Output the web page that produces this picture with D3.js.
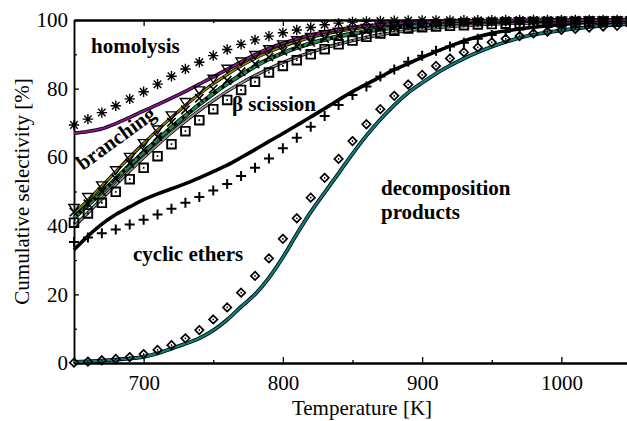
<!DOCTYPE html>
<html>
<head>
<meta charset="utf-8">
<script src="https://cdn.jsdelivr.net/npm/d3@7"></script>
<style>
  body { margin: 0; background: #fff; }
  text { font-family: "Liberation Serif", "Times New Roman", serif; }
</style>
</head>
<body>
<div id="my_dataviz"></div>
<script>
// temperatures of the data points [K]
var temps = [650, 660, 670, 680, 690, 700, 710, 720, 730, 740, 750, 760, 770, 780, 790, 800,
             810, 820, 830, 840, 850, 860, 870, 880, 890, 900, 910, 920, 930, 940, 950, 960,
             970, 980, 990, 1000, 1010, 1020, 1030, 1040, 1050];

// measured points (markers)
var homolysisPts = [69.4, 71.1, 73.0, 75.0, 77.0, 79.1, 81.3, 83.6, 85.7, 87.7, 89.6, 91.4, 92.9, 94.2, 95.3, 96.3,
                    97.1, 97.8, 98.6, 99.1, 99.4, 99.6, 99.7, 99.8, 99.85, 99.9, 99.9, 99.9, 99.95, 99.95, 99.95, 100,
                    100, 100, 100, 100, 100, 100, 100, 100, 100];
var branchingPts = [45.3, 48.5, 51.9, 56.3, 60.2, 64.2, 68.2, 72.3, 76.2, 79.6, 83.0, 85.9, 88.0, 89.9, 91.6, 93.0,
                    94.2, 95.2, 96.0, 96.7, 97.3, 97.8, 98.2, 98.5, 98.8, 99.0, 99.2, 99.3, 99.45, 99.55, 99.6, 99.7,
                    99.75, 99.8, 99.85, 99.9, 99.9, 99.95, 99.95, 100, 100];
var otherPts     = [44.0, 46.4, 49.9, 53.8, 58.2, 62.1, 66.0, 70.2, 73.8, 77.2, 79.9, 82.4, 84.9, 87.2, 89.2, 90.9,
                    92.3, 93.5, 94.6, 95.5, 96.3, 96.9, 97.5, 97.9, 98.3, 98.6, 98.9, 99.1, 99.25, 99.4, 99.5, 99.6,
                    99.7, 99.75, 99.8, 99.85, 99.9, 99.9, 99.95, 99.95, 100];
var betaPts      = [40.9, 43.6, 46.7, 49.9, 53.6, 56.9, 60.3, 63.8, 67.6, 70.8, 74.0, 76.7, 79.6, 82.0, 84.7, 86.6,
                    88.3, 90.0, 91.5, 92.9, 94.0, 95.1, 96.1, 96.9, 97.5, 97.9, 98.1, 98.3, 98.5, 98.7, 98.8, 98.9,
                    99.0, 99.1, 99.2, 99.3, 99.35, 99.4, 99.45, 99.5, 99.5];
var cyclicPts    = [35.3, 36.6, 37.8, 38.9, 40.4, 41.8, 43.3, 45.0, 46.7, 48.4, 50.3, 52.2, 54.5, 56.9, 59.6, 62.6,
                    65.7, 68.9, 72.0, 75.2, 78.1, 80.6, 83.5, 85.6, 87.8, 89.6, 91.0, 92.3, 93.4, 94.5, 95.6, 96.5,
                    97.2, 97.9, 98.4, 98.7, 99.0, 99.2, 99.4, 99.5, 99.6];
var decompPts    = [0.1, 0.4, 0.8, 1.2, 1.7, 2.6, 3.8, 5.2, 7.2, 9.6, 12.7, 16.2, 20.5, 25.4, 30.5, 36.2,
                    42.2, 48.2, 54.0, 59.5, 64.7, 69.6, 74.0, 77.9, 81.2, 84.0, 86.6, 88.8, 90.6, 92.0, 93.5, 94.5,
                    95.3, 96.1, 96.6, 97.1, 97.4, 97.8, 98.1, 98.3, 98.5];

// model curves (lines)
var homolysisFit = [67.0, 67.5, 68.3, 69.8, 71.6, 73.5, 75.3, 77.2, 79.2, 81.3, 83.4, 85.6, 87.8, 89.9, 91.7, 93.2,
                    94.5, 95.6, 96.5, 97.2, 97.8, 98.3, 98.7, 99.0, 99.2, 99.4, 99.5, 99.6, 99.7, 99.75, 99.8, 99.85,
                    99.9, 99.9, 99.95, 99.95, 100, 100, 100, 100, 100];
var branchingFit = [43.5, 47.5, 51.6, 55.8, 60.0, 64.0, 67.9, 71.6, 75.1, 78.4, 81.4, 84.1, 86.6, 88.8, 90.7, 92.3,
                    93.7, 94.9, 95.9, 96.7, 97.4, 97.9, 98.3, 98.7, 99.0, 99.2, 99.35, 99.5, 99.6, 99.7, 99.75, 99.8,
                    99.85, 99.9, 99.9, 99.95, 99.95, 100, 100, 100, 100];
var otherFit     = [42.3, 46.0, 49.8, 53.7, 57.6, 61.4, 65.1, 68.7, 72.1, 75.4, 78.5, 81.4, 84.0, 86.5, 88.6, 90.4,
                    91.9, 93.2, 94.3, 95.2, 96.0, 96.7, 97.3, 97.8, 98.2, 98.5, 98.8, 99.0, 99.2, 99.35, 99.5, 99.6,
                    99.7, 99.75, 99.8, 99.85, 99.9, 99.9, 99.95, 99.95, 100];
var betaFit      = [39.8, 43.8, 47.9, 52.0, 56.0, 59.9, 63.6, 67.2, 70.5, 73.6, 76.5, 79.2, 81.6, 83.8, 85.8, 87.6,
                    89.2, 90.6, 91.9, 93.0, 94.0, 94.9, 95.7, 96.4, 96.9, 97.4, 97.8, 98.1, 98.4, 98.6, 98.8, 98.95,
                    99.05, 99.15, 99.25, 99.3, 99.35, 99.4, 99.45, 99.5, 99.5];
var cyclicFit    = [33.0, 37.0, 40.5, 43.3, 45.5, 47.6, 49.3, 50.8, 52.3, 54.0, 55.8, 57.7, 59.9, 62.2, 64.6, 66.9,
                    69.3, 71.7, 74.2, 76.7, 79.1, 81.3, 83.4, 85.5, 87.3, 89.1, 90.8, 92.4, 93.9, 95.1, 96.1, 96.8,
                    97.4, 97.9, 98.3, 98.7, 99.0, 99.3, 99.5, 99.6, 99.7];
var decompFit    = [0.3, 0.5, 0.7, 1.0, 1.3, 1.8, 2.8, 4.2, 5.6, 7.2, 9.5, 12.6, 16.4, 20.0, 24.8, 30.8,
                    37.6, 44.0, 49.7, 55.3, 61.0, 66.3, 71.0, 75.2, 78.8, 81.7, 84.4, 86.7, 88.8, 90.6, 92.2, 93.6,
                    94.8, 95.7, 96.4, 97.0, 97.5, 98.0, 98.4, 98.6, 98.8];

// tick values
var xMajor = [700, 800, 900, 1000];
var xMinor = [650, 750, 850, 950, 1050];
var yMajor = [0, 20, 40, 60, 80, 100];
var yMinor = [10, 30, 50, 70, 90];

// set the dimensions and margins of the graph
var margin = {top: 20, right: 0, bottom: 58, left: 74},
    width = 557,
    height = 343;

// append the svg object to the body of the page
var svg = d3.select("#my_dataviz")
  .append("svg")
    .attr("width", 627)
    .attr("height", 421)
  .append("g")
    .attr("transform", "translate(" + margin.left + "," + margin.top + ")");

var x = d3.scaleLinear().domain([650, 1050]).range([0, width]);
var y = d3.scaleLinear().domain([0, 100]).range([height, 0]);

// custom marker shapes (size = half width in px)
function seg(c, x0, y0, x1, y1) { c.moveTo(x0, y0); c.lineTo(x1, y1); }
var shapes = {
  asterisk: { draw: function (c, r) {
    var d = r * 0.72;
    seg(c, -r, 0, r, 0); seg(c, 0, -r, 0, r);
    seg(c, -d, -d, d, d); seg(c, -d, d, d, -d);
  }},
  triDown: { draw: function (c, r) {
    c.moveTo(-r, -r * 0.6); c.lineTo(r, -r * 0.6); c.lineTo(0, r * 0.9); c.closePath();
  }},
  times: { draw: function (c, r) {
    seg(c, -r, -r, r, r); seg(c, -r, r, r, -r);
  }},
  squareDot: { draw: function (c, r) {
    c.rect(-r, -r, 2 * r, 2 * r);
    seg(c, -0.8, 0, 0.8, 0);
  }},
  plus: { draw: function (c, r) {
    seg(c, -r, 0, r, 0); seg(c, 0, -r, 0, r);
  }},
  diamondDot: { draw: function (c, r) {
    c.moveTo(0, -r); c.lineTo(r, 0); c.lineTo(0, r); c.lineTo(-r, 0); c.closePath();
    seg(c, -0.7, 0, 0.7, 0);
  }}
};

// Add the axes (ticks pointing inwards)
function styleAxis(g) {
  g.attr("font-family", null).attr("font-size", null);
  g.selectAll(".domain").attr("stroke", "#000").attr("stroke-width", 2);
  g.selectAll(".tick line").attr("stroke", "#000").attr("stroke-width", 1.3);
  g.selectAll(".tick text").attr("fill", "#000").style("font-size", "21px");
}

svg.append("g")
  .attr("transform", "translate(0," + height + ")")
  .call(d3.axisBottom(x).tickValues(xMajor).tickSize(-6).tickSizeOuter(0).tickPadding(12).tickFormat(d3.format("d")))
  .call(styleAxis);
svg.append("g")
  .attr("transform", "translate(0," + height + ")")
  .call(d3.axisBottom(x).tickValues(xMinor).tickSize(-3).tickSizeOuter(0).tickFormat(""))
  .call(styleAxis);
svg.append("g")
  .call(d3.axisTop(x).tickValues(xMajor).tickSize(-6).tickSizeOuter(0).tickFormat(""))
  .call(styleAxis);
svg.append("g")
  .call(d3.axisTop(x).tickValues(xMinor).tickSize(-3).tickSizeOuter(0).tickFormat(""))
  .call(styleAxis);

svg.append("g")
  .call(d3.axisLeft(y).tickValues(yMajor).tickSize(-5).tickSizeOuter(0).tickPadding(6))
  .call(styleAxis)
  .call(function (g) { g.select(".domain").attr("stroke-width", 1.5); });
svg.append("g")
  .call(d3.axisLeft(y).tickValues(yMinor).tickSize(-3).tickSizeOuter(0).tickFormat(""))
  .call(styleAxis)
  .call(function (g) { g.select(".domain").attr("stroke-width", 1.5); });
svg.append("g")
  .attr("transform", "translate(" + width + ",0)")
  .call(d3.axisRight(y).tickValues(yMajor.concat(yMinor)).tickSize(-3).tickSizeOuter(0).tickFormat(""))
  .call(styleAxis);

// Add the model lines
var line = d3.line()
  .x(function (d, i) { return x(temps[i]); })
  .y(function (d) { return y(d); })
  .curve(d3.curveMonotoneX);

var fits = [
  {vals: decompFit,    color: "#0e7f80", w: 2.2},
  {vals: cyclicFit,    color: "#000",    w: 2.0},
  {vals: betaFit,      color: "#8e8e8e", w: 1.8},
  {vals: otherFit,     color: "#1f8c4c", w: 2.8, dash: "7,3"},
  {vals: branchingFit, color: "#8d8300", w: 1.6},
  {vals: homolysisFit, color: "#88128a", w: 2.0}
];

fits.forEach(function (f) {
  svg.append("path")
    .datum(f.vals)
    .attr("fill", "none")
    .attr("stroke", "#000")
    .attr("stroke-width", f.w + 1.6)
    .attr("d", line);
  svg.append("path")
    .datum(f.vals)
    .attr("fill", "none")
    .attr("stroke", f.color)
    .attr("stroke-width", f.w)
    .attr("stroke-dasharray", f.dash || null)
    .attr("d", line);
});

// Add the markers
var points = [
  {vals: decompPts,    shape: shapes.diamondDot, r: 4.2, sw: 1.7},
  {vals: cyclicPts,    shape: shapes.plus,       r: 5,   sw: 2},
  {vals: betaPts,      shape: shapes.squareDot,  r: 4.3, sw: 1.9},
  {vals: otherPts,     shape: shapes.times,      r: 4.2, sw: 1.6},
  {vals: branchingPts, shape: shapes.triDown,    r: 5.2, sw: 1.4},
  {vals: homolysisPts, shape: shapes.asterisk,   r: 5.2, sw: 1.4}
];

points.forEach(function (p) {
  svg.append("g")
    .selectAll("path")
    .data(p.vals)
    .enter()
    .append("path")
      .attr("transform", function (d, i) { return "translate(" + x(temps[i]) + "," + y(d) + ")"; })
      .attr("d", d3.symbol().type(p.shape).size(p.r))
      .attr("fill", "none")
      .attr("stroke", "#000")
      .attr("stroke-width", p.sw);
});

// Labels
var labels = svg.append("g")
  .attr("font-weight", "bold")
  .style("font-size", "21px")
  .attr("fill", "#000");

labels.append("text").attr("x", 17).attr("y", 33).text("homolysis");
labels.append("text")
  .attr("text-anchor", "middle")
  .attr("transform", "translate(46,124) rotate(-36)")
  .text("branching");
labels.append("text").attr("x", 158).attr("y", 91).text("β scission");
labels.append("text").attr("x", 59).attr("y", 241).text("cyclic ethers");
labels.append("text").attr("x", 307).attr("y", 175).text("decomposition");
labels.append("text").attr("x", 307).attr("y", 199).text("products");

// Axis titles
svg.append("text")
  .attr("text-anchor", "middle")
  .attr("x", 288)
  .attr("y", height + 52)
  .style("font-size", "21px")
  .text("Temperature [K]");

svg.append("text")
  .attr("text-anchor", "middle")
  .attr("transform", "translate(-45," + (height / 2) + ") rotate(-90)")
  .style("font-size", "21px")
  .text("Cumulative selectivity [%]");
</script>
</body>
</html>
